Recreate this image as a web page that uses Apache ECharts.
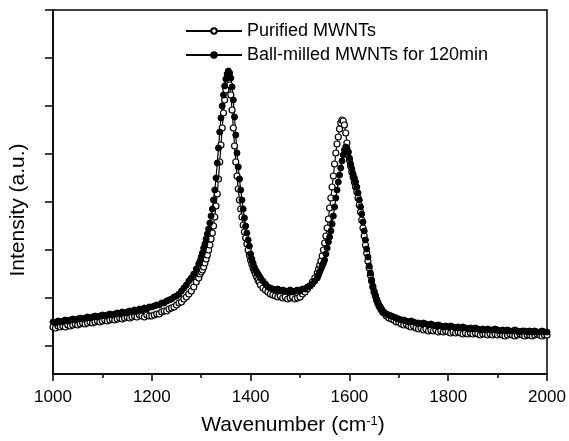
<!DOCTYPE html>
<html>
<head>
<meta charset="utf-8">
<script src="https://cdn.jsdelivr.net/npm/echarts@6/dist/echarts.min.js"></script>
<style>html,body{margin:0;padding:0;background:#fff}#c{width:569px;height:441px}</style>
</head>
<body>
<div id="c"></div>
<script>
// Wavenumber sampling (cm^-1)
var wavenumber = [
1000,1005,1010,1015,1020,1025,1030,1035,1040,1045,1050,1055,1060,1065,1070,1075,1080,1085,1090,1095,
1100,1105,1110,1115,1120,1125,1130,1135,1140,1145,1150,1155,1160,1165,1170,1175,1180,1185,1190,1195,
1200,1205,1210,1215,1220,1225,1230,1235,1240,1245,1250,1255,1260,1265,1270,1275,1280,1285,1290,1295,
1297.5,1300,1302.5,1305,1307.5,1310,1312.5,1315,1317.5,1320,1322.5,1325,1327.5,1330,1332.5,1335,1337.5,1340,1342.5,1345,
1347.5,1350,1352.5,1355,1357.5,1360,1362.5,1365,1367.5,1370,1372.5,1375,1377.5,1380,1382.5,1385,1387.5,1390,1392.5,1395,
1397.5,1400,1402.5,1405,1407.5,1410,1412.5,1415,1417.5,1420,
1425,1430,1435,1440,1445,1450,1455,1460,1465,1470,1475,1480,1485,1490,1495,1500,1505,1510,1515,1520,1525,1530,1535,
1537.5,1540,1542.5,1545,1547.5,1550,1552.5,1555,1557.5,1560,1562.5,1565,1567.5,1570,1572.5,1575,1577.5,1580,1582.5,1585,
1587.5,1590,1592.5,1595,1597.5,1600,1602.5,1605,1607.5,1610,1612.5,1615,1617.5,1620,1622.5,1625,1627.5,1630,1632.5,1635,
1637.5,1640,1642.5,1645,1647.5,1650,1652.5,1655,1657.5,1660,1662.5,1665,1667.5,1670,
1675,1680,1685,1690,1695,1700,1705,1710,1715,1720,1725,1730,1735,1740,1745,1750,1755,1760,1765,1770,
1775,1780,1785,1790,1795,1800,1805,1810,1815,1820,1825,1830,1835,1840,1845,1850,1855,1860,1865,1870,
1875,1880,1885,1890,1895,1900,1905,1910,1915,1920,1925,1930,1935,1940,1945,1950,1955,1960,1965,1970,
1975,1980,1985,1990,1995,2000
];

// Purified MWNTs intensity (a.u.)
var purified = [
47,46,48,47,48,47,49,48,49,50, 49,50,51,50,51,52,51,52,53,52,
53,54,53,54,55,54,55,56,55,56, 57,56,57,58,57,59,58,57,59,58,
58,59,60,60,62,63,63,65,66,67, 69,71,72,75,77,80,83,87,92,96,
100,102,104,107,111,115,119,124,129,135, 141,148,157,168,180,195,212,229,246,261,
274,284,290,292,289,279,264,246,228,212, 198,185,174,165,157,149,142,136,130,124,
119,114,110,106,103,100,97,94,92,89,
86,84,82,80,79,78,77,78,76,77,75,76,77,75,76,77,80,82,85,88,92,96,101,
105,109,113,118,124,131,138,146,155,166, 176,187,198,210,221,230,237,245,251,254,
253,249,241,231,222,214,208,202,197,192, 187,182,176,169,162,154,146,138,129,121,
113,106,99,93,87,82,78,74,71,68, 66,64,62,61,
58,56,55,54,52,52,50,49,50,48, 47,48,46,45,46,44,45,43,44,43,
44,42,43,42,43,42,41,42,41,42, 41,40,41,40,41,40,41,40,39,40,
40,39,40,39,40,39,40,39,38,39, 40,39,38,39,40,39,38,39,39,38,
39,40,39,38,39,39
];

// Ball-milled MWNTs for 120min intensity (a.u.)
var ballMilled = [
52,51,53,52,53,54,53,54,55,54, 55,56,55,56,57,56,57,58,57,58,
59,58,59,60,59,60,61,60,62,61, 62,63,62,64,63,65,64,66,65,67,
67,68,69,69,71,71,73,74,75,77, 78,80,83,86,89,93,96,100,105,110,
113,117,121,126,130,135,140,145,151,158, 165,174,184,196,211,226,242,256,268,279,
288,295,300,303,301,296,287,274,257,239, 221,207,195,184,174,165,156,148,141,134,
128,120,115,111,107,104,102,100,98,96,
93,90,87,86,85,84,85,83,84,83,82,84,82,83,84,83,85,85,87,88,90,93,96,
99,102,105,108,111,114,120,126,132,137, 143,150,158,167,176,184,192,199,206,213,
219,224,227,226,222,216,210,205,200,196, 192,187,181,174,167,160,152,143,134,125,
117,108,101,94,88,83,79,75,72,69, 67,65,63,62,
60,59,58,57,56,55,54,54,53,52, 53,52,51,51,50,51,50,49,50,49,
48,49,48,47,48,47,48,47,46,47, 46,47,46,45,46,45,46,45,44,45,
44,45,44,44,45,44,43,44,43,44, 43,43,44,43,42,43,43,42,43,42,
43,42,42,43,42,42
];

var xTicks = [1000, 1200, 1400, 1600, 1800, 2000];
var yTickValues = [28, 76, 124, 172, 220, 268, 316, 364];
var seriesNames = ['Purified MWNTs', 'Ball-milled MWNTs for 120min'];

function pairs(ys) {
  var out = [];
  for (var i = 0; i < wavenumber.length; i++) out.push([wavenumber[i], ys[i]]);
  return out;
}

var font = '"Liberation Sans", Arial, Helvetica, sans-serif';
var chart = echarts.init(document.getElementById('c'), null, {renderer: 'canvas'});
chart.setOption({
  animation: false,
  backgroundColor: '#fff',
  grid: {left: 53, right: 22, top: 10, bottom: 67, show: true, borderColor: '#000', borderWidth: 1.5, backgroundColor: 'transparent'},
  legend: {
    data: seriesNames,
    orient: 'vertical',
    left: 185, top: 22, padding: 0,
    itemWidth: 56, itemHeight: 7, itemGap: 6,
    textStyle: {fontFamily: font, fontSize: 18, color: '#000'}
  },
  xAxis: {
    type: 'value', min: xTicks[0], max: xTicks[xTicks.length - 1], interval: 200,
    name: '{a|Wavenumber (cm}{b|-1}{a|)}',
    nameLocation: 'middle', nameGap: 41,
    nameTextStyle: {padding: [0, 14, 0, 0], rich: {
      a: {fontFamily: font, fontSize: 21, color: '#000'},
      b: {fontFamily: font, fontSize: 13, color: '#000', verticalAlign: 'top', padding: [0, 0, 8, 0]}
    }},
    axisLine: {show: true, lineStyle: {color: '#000', width: 1.5}},
    axisTick: {show: true, inside: false, length: 7, lineStyle: {color: '#000', width: 1.5}},
    minorTick: {show: true, splitNumber: 2, length: 4, lineStyle: {color: '#000', width: 1.5}},
    axisLabel: {fontFamily: font, fontSize: 17, color: '#000', margin: 15, formatter: function (v) { return String(v); }},
    splitLine: {show: false}
  },
  yAxis: {
    type: 'value', min: 0, max: 364,
    name: 'Intensity (a.u.)',
    nameLocation: 'middle', nameGap: 24,
    nameTextStyle: {fontFamily: font, fontSize: 21, color: '#000', padding: [0, 36, 0, 0]},
    axisLine: {show: true, lineStyle: {color: '#000', width: 1.5}},
    axisTick: {show: true, inside: false, length: 8, customValues: yTickValues, lineStyle: {color: '#000', width: 1.5}},
    axisLabel: {show: false},
    splitLine: {show: false}
  },
  series: [
    {
      name: seriesNames[0], type: 'line', data: pairs(purified),
      symbol: 'circle', symbolSize: 6, showSymbol: true,
      lineStyle: {color: '#000', width: 1.2},
      itemStyle: {color: '#fff', borderColor: '#000', borderWidth: 1.2},
      emphasis: {disabled: true}
    },
    {
      name: seriesNames[1], type: 'line', data: pairs(ballMilled),
      symbol: 'circle', symbolSize: 6, showSymbol: true,
      lineStyle: {color: '#000', width: 1.2},
      itemStyle: {color: '#000', borderColor: '#000', borderWidth: 1},
      emphasis: {disabled: true}
    }
  ]
});
</script>
</body>
</html>
